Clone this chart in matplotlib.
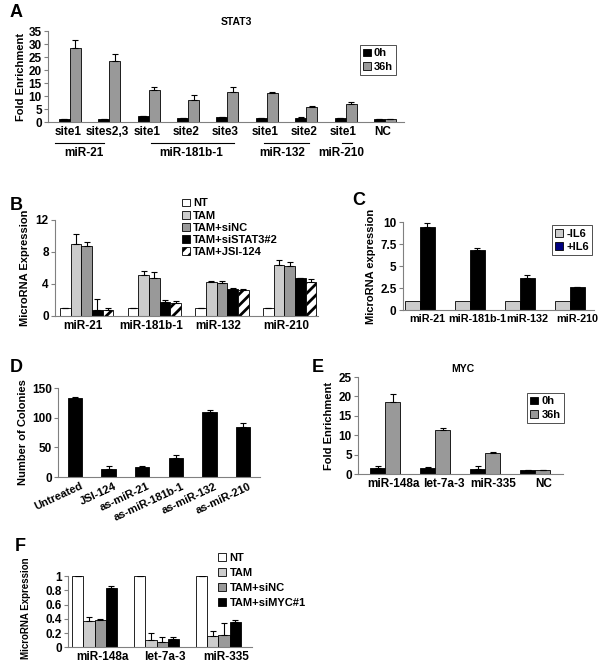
import numpy as np
import matplotlib
matplotlib.use("Agg")
import matplotlib.pyplot as plt
from matplotlib.patches import Patch

plt.rcParams['font.family'] = ['Liberation Sans', 'DejaVu Sans']
plt.rcParams['font.weight'] = 'bold'
plt.rcParams['axes.labelweight'] = 'bold'
plt.rcParams['font.size'] = 7.5
plt.rcParams['hatch.linewidth'] = 2.0

# ---------------- data ----------------
# A: STAT3 ChIP
a_sites = ['site1', 'sites2,3', 'site1', 'site2', 'site3', 'site1', 'site2', 'site1', 'NC']
a_0h = [1.3, 1.3, 2.3, 1.4, 1.8, 1.6, 1.5, 1.4, 1.0]
a_0h_err = [0.0, 0.0, 0.0, 0.3, 0.0, 0.0, 0.6, 0.0, 0.0]
a_36h = [28.5, 23.5, 12.3, 8.6, 11.6, 11.2, 5.8, 6.8, 1.0]
a_36h_err = [3.0, 2.7, 1.2, 1.8, 2.0, 0.5, 0.5, 0.9, 0.0]
a_groups = ['miR-21', 'miR-181b-1', 'miR-132', 'miR-210']

# B: microRNA expression after STAT3 knockdown
b_mirs = ['miR-21', 'miR-181b-1', 'miR-132', 'miR-210']
b_series = ['NT', 'TAM', 'TAM+siNC', 'TAM+siSTAT3#2', 'TAM+JSI-124']
b_vals = [[1, 1, 1, 1],
          [9.0, 5.1, 4.2, 6.4],
          [8.7, 4.8, 4.1, 6.3],
          [0.8, 1.8, 3.4, 4.7],
          [0.8, 1.6, 3.3, 4.3]]
b_err = [[0, 0, 0, 0],
         [1.2, 0.5, 0.15, 0.6],
         [0.5, 0.7, 0.25, 0.5],
         [1.3, 0.2, 0.1, 0.05],
         [0.2, 0.3, 0.05, 0.3]]

# C: IL6
c_mirs = ['miR-21', 'miR-181b-1', 'miR-132', 'miR-210']
c_minus = [1, 1, 1, 1]
c_plus = [9.5, 6.8, 3.7, 2.6]
c_plus_err = [0.45, 0.3, 0.25, 0.05]

# D: colonies
d_labels = ['Untreated', 'JSI-124', 'as-miR-21', 'as-miR-181b-1', 'as-miR-132', 'as-miR-210']
d_vals = [133, 13, 17, 32, 110, 84]
d_err = [2, 5, 1, 5, 3, 7]

# E: MYC ChIP
e_labels = ['miR-148a', 'let-7a-3', 'miR-335', 'NC']
e_0h = [1.5, 1.5, 1.3, 1.0]
e_0h_err = [0.5, 0.2, 0.7, 0.0]
e_36h = [18.6, 11.4, 5.5, 1.0]
e_36h_err = [2.1, 0.5, 0.2, 0.0]

# F: microRNA expression after MYC knockdown
f_mirs = ['miR-148a', 'let-7a-3', 'miR-335']
f_series = ['NT', 'TAM', 'TAM+siNC', 'TAM+siMYC#1']
f_vals = [[1, 1, 1],
          [0.37, 0.10, 0.16],
          [0.38, 0.08, 0.17],
          [0.84, 0.12, 0.36]]
f_err = [[0, 0, 0],
         [0.05, 0.10, 0.07],
         [0.02, 0.07, 0.17],
         [0.02, 0.03, 0.02]]

BLACK = '#000000'
GRAY = '#999999'
LIGHT = '#cccccc'
TICK = 8.5
LAB = 8


def style(ax, xsize=TICK):
    for s in ['top', 'right']:
        ax.spines[s].set_visible(False)
    ax.spines['left'].set_color('#808080')
    ax.spines['bottom'].set_color('#808080')
    ax.tick_params(axis='y', length=3, direction='out', color='#808080', pad=1.5, labelsize=TICK)
    ax.tick_params(axis='x', length=0, pad=3, labelsize=xsize)


def ebar(ax, x, y, err):
    err = np.asarray(err)
    ax.errorbar(x, y, yerr=[np.zeros_like(err), err], fmt='none', ecolor='black',
                elinewidth=0.8, capsize=2.5, capthick=0.8)


def sq_legend(ax, labels, colors, anchor, frame, hatches=None, spacing=0.3):
    handles = []
    for i, (l, c) in enumerate(zip(labels, colors)):
        h = hatches[i] if hatches else None
        handles.append(Patch(facecolor=c, edgecolor='black', linewidth=0.6, hatch=h, label=l))
    leg = ax.legend(handles=handles, loc='upper left', bbox_to_anchor=anchor,
                    frameon=frame, fancybox=False, handlelength=0.7, handleheight=0.7,
                    handletextpad=0.3, labelspacing=spacing, borderpad=0.3,
                    fontsize=8, borderaxespad=0)
    if frame:
        leg.get_frame().set_edgecolor('black')
        leg.get_frame().set_linewidth(0.6)
    return leg


fig = plt.figure(figsize=(6.03, 6.7), dpi=100)

# ---------------- A ----------------
ax = fig.add_axes([0.080, 0.8179, 0.590, 0.1358])
x = np.arange(len(a_sites))
w = 0.28
ax.bar(x - w / 2, a_0h, w, color=BLACK, edgecolor='black', linewidth=0.6)
ax.bar(x + w / 2, a_36h, w, color=GRAY, edgecolor='black', linewidth=0.6)
ebar(ax, x + w / 2, a_36h, a_36h_err)
ebar(ax, x - w / 2, a_0h, a_0h_err)
ax.set_xlim(-0.55, 8.485)
ax.set_ylim(0, 35)
ax.set_yticks(range(0, 36, 5))
ax.set_xticks(x - 0.05)
ax.set_xticklabels(a_sites)
ax.set_ylabel('Fold Enrichment', fontsize=LAB, labelpad=2)
style(ax)
ax.text(0.53, 1.10, 'STAT3', transform=ax.transAxes, ha='center', va='center', fontsize=7.5)
trans = ax.get_xaxis_transform()
for (x0, x1), lx, name in zip([(-0.38, 0.86), (2.07, 4.17), (4.92, 6.06), (6.92, 7.17)],
                              [0.35, 3.08, 5.40, 6.89], a_groups):
    ax.plot([x0, x1], [-0.23, -0.23], color='black', lw=0.8, transform=trans, clip_on=False)
    ax.text(lx, -0.34, name, transform=trans, ha='center', va='center', fontsize=TICK)
sq_legend(ax, ['0h', '36h'], [BLACK, GRAY], (0.875, 0.846), True)

# ---------------- B ----------------
ax = fig.add_axes([0.0912, 0.5284, 0.436, 0.1433])
x = np.arange(len(b_mirs))
w = 0.158
b_colors = ['white', LIGHT, GRAY, BLACK, 'white']
b_hatch = [None, None, None, None, '///']
for i in range(len(b_series)):
    pos = x + (i - 2) * w
    ax.bar(pos, b_vals[i], w, color=b_colors[i], edgecolor='black', linewidth=0.6,
           hatch=b_hatch[i])
    ebar(ax, pos, b_vals[i], b_err[i])
ax.set_xlim(-0.468, 3.417)
ax.set_ylim(0, 12)
ax.set_yticks([0, 4, 8, 12])
ax.set_xticks(x - 0.05)
ax.set_xticklabels(b_mirs)
ax.set_ylabel('MicroRNA Expression', fontsize=LAB, labelpad=4)
style(ax)
sq_legend(ax, b_series, b_colors, (0.47, 1.26), False, hatches=b_hatch, spacing=0.2)

# ---------------- C ----------------
ax = fig.add_axes([0.668, 0.537, 0.3167, 0.1313])
x = np.arange(len(c_mirs))
w = 0.3
ax.bar(x - w / 2, c_minus, w, color=LIGHT, edgecolor='black', linewidth=0.6)
ax.bar(x + w / 2, c_plus, w, color=BLACK, edgecolor='black', linewidth=0.6)
ebar(ax, x + w / 2, c_plus, c_plus_err)
ax.set_xlim(-0.34, 3.48)
ax.set_ylim(0, 10)
ax.set_yticks([0, 2.5, 5, 7.5, 10])
ax.set_yticklabels(['0', '2.5', '5', '7.5', '10'])
ax.set_xticks(x + 0.14)
ax.set_xticklabels(c_mirs)
ax.set_ylabel('MicroRNA expression', fontsize=LAB, labelpad=3)
style(ax, xsize=7.8)
sq_legend(ax, ['-IL6', '+IL6'], [LIGHT, '#000080'], (0.78, 0.966), True)

# ---------------- D ----------------
ax = fig.add_axes([0.0962, 0.288, 0.335, 0.1328])
x = np.arange(len(d_labels))
ax.bar(x, d_vals, 0.42, color=BLACK, edgecolor='black', linewidth=0.6)
ebar(ax, x, d_vals, d_err)
ax.set_xlim(-0.5, 5.5)
ax.set_ylim(0, 150)
ax.set_yticks([0, 50, 100, 150])
ax.set_xticks(x + 0.15)
ax.set_xticklabels(d_labels, rotation=25, ha='right', rotation_mode='anchor')
ax.set_ylabel('Number of Colonies', fontsize=LAB, labelpad=3)
style(ax, xsize=8)

# ---------------- E ----------------
ax = fig.add_axes([0.5937, 0.2925, 0.34, 0.1448])
x = np.arange(len(e_labels))
w = 0.3
ax.bar(x - w / 2, e_0h, w, color=BLACK, edgecolor='black', linewidth=0.6)
ax.bar(x + w / 2, e_36h, w, color=GRAY, edgecolor='black', linewidth=0.6)
ebar(ax, x - w / 2, e_0h, e_0h_err)
ebar(ax, x + w / 2, e_36h, e_36h_err)
ax.set_xlim(-0.54, 3.56)
ax.set_ylim(0, 25)
ax.set_yticks(range(0, 26, 5))
ax.set_xticks(x + 0.17)
ax.set_xticklabels(e_labels)
ax.set_ylabel('Fold Enrichment', fontsize=LAB, labelpad=3)
style(ax)
ax.text(0.512, 1.082, 'MYC', transform=ax.transAxes, ha='center', va='center', fontsize=7.5)
sq_legend(ax, ['0h', '36h'], [BLACK, GRAY], (0.824, 0.835), True)

# ---------------- F ----------------
ax = fig.add_axes([0.1128, 0.034, 0.305, 0.106])
x = np.arange(len(f_mirs))
w = 0.18
f_colors = ['white', LIGHT, GRAY, BLACK]
for i in range(len(f_series)):
    pos = x + (i - 1.5) * w
    ax.bar(pos, f_vals[i], w, color=f_colors[i], edgecolor='black', linewidth=0.6)
    ebar(ax, pos, f_vals[i], f_err[i])
ax.set_xlim(-0.43, 2.54)
ax.set_ylim(0, 1)
ax.set_yticks([0, 0.2, 0.4, 0.6, 0.8, 1])
ax.set_yticklabels(['0', '0.2', '0.4', '0.6', '0.8', '1'])
ax.set_xticks(x + 0.13)
ax.set_xticklabels(f_mirs)
ax.set_ylabel('MicroRNA Expression', fontsize=7, labelpad=3)
ax.yaxis.set_label_coords(-0.2, 0.55)
style(ax)
sq_legend(ax, f_series, f_colors, (0.80, 1.38), False, spacing=0.45)

# panel letters
for lx, ly, t in [(0.0166, 0.982, 'A'), (0.0166, 0.694, 'B'), (0.584, 0.701, 'C'),
                  (0.0166, 0.451, 'D'), (0.517, 0.451, 'E'), (0.025, 0.185, 'F')]:
    fig.text(lx, ly, t, fontsize=13, fontweight='bold', va='center', ha='left')

fig.savefig('out.png', dpi=100)
